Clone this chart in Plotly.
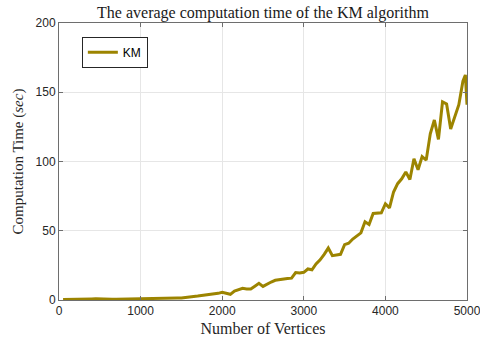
import plotly.graph_objects as go

vertices = [50, 100, 150, 200, 250, 300, 350, 400, 450, 500, 550, 600, 650, 700, 750, 800, 850, 900, 950, 1000,
            1050, 1100, 1150, 1200, 1250, 1300, 1350, 1400, 1450, 1500, 1550, 1600, 1650, 1700, 1750, 1800, 1850, 1900, 1950, 2000,
            2050, 2100, 2150, 2200, 2250, 2300, 2350, 2400, 2450, 2500, 2550, 2600, 2650, 2700, 2750, 2800, 2850, 2900, 2950, 3000,
            3050, 3100, 3150, 3200, 3250, 3300, 3350, 3400, 3450, 3500, 3550, 3600, 3650, 3700, 3750, 3800, 3850, 3900, 3950, 4000,
            4050, 4100, 4150, 4200, 4250, 4300, 4350, 4400, 4450, 4500, 4550, 4600, 4650, 4700, 4750, 4800, 4850, 4900, 4950, 4980, 5000]
km_time = [0.3, 0.3, 0.3, 0.3, 0.4, 0.5, 0.6, 0.8, 0.9, 0.7, 0.5, 0.4, 0.5, 0.5, 0.6, 0.6, 0.7, 0.7, 0.8, 0.9,
           0.9, 1.0, 1.1, 1.2, 1.3, 1.3, 1.4, 1.4, 1.5, 1.5, 1.7, 2.2, 2.6, 2.9, 3.2, 3.4, 3.7, 4.1, 4.8, 5.6,
           5.0, 4.1, 6.5, 7.2, 8.4, 8.0, 8.0, 10.0, 12.0, 9.8, 11.5, 13.0, 14.2, 14.8, 15.2, 15.5, 15.8, 19.8, 19.5, 20.0,
           22.4, 21.8, 26.0, 29.0, 33.0, 37.5, 32.0, 32.5, 33.0, 40.0, 41.0, 44.0, 46.5, 48.5, 56.5, 54.5, 62.5, 63.0, 63.0, 69.5,
           66.5, 78.0, 84.0, 87.5, 92.5, 87.0, 102.0, 94.0, 103.5, 101.0, 120.0, 130.0, 116.0, 143.0, 141.5, 123.5, 132.0, 141.0, 158.0, 162.5, 141.0]

x_ticks = [0, 1000, 2000, 3000, 4000, 5000]
y_ticks = [0, 50, 100, 150, 200]

serif = "Liberation Serif, DejaVu Serif, serif"
sans = "Liberation Sans, Arial, sans-serif"

fig = go.Figure()
fig.add_trace(go.Scatter(x=vertices, y=km_time, mode="lines", name="KM",
                         line=dict(color="#9c8400", width=3)))

axis_common = dict(showline=True, linecolor="#6e6e6e", linewidth=1, mirror="allticks",
                   ticks="inside", ticklen=4, tickcolor="#6e6e6e",
                   showgrid=True, gridcolor="#e6e6e6", gridwidth=1, zeroline=False,
                   ticklabeloverflow="allow", automargin=False,
                   tickfont=dict(family=sans, size=12, color="#262626"))

fig.update_layout(
    width=480, height=347,
    margin=dict(l=59, r=13, t=23, b=47),
    paper_bgcolor="white", plot_bgcolor="white",
    title=dict(text="The average computation time of the KM algorithm",
               font=dict(family=serif, size=16, color="#1a1a1a"),
               x=(59 + 467) / 2 / 480, xanchor="center", y=1 - 12 / 347, yanchor="middle"),
    xaxis=dict(range=[0, 5000], tickvals=x_ticks,
               title=dict(text="Number of Vertices", font=dict(family=serif, size=16, color="#262626"), standoff=5),
               **axis_common),
    yaxis=dict(range=[0, 200], tickvals=y_ticks,
               title=dict(text="Computation Time (<i>sec</i>)", font=dict(family=serif, size=15, color="#262626"), standoff=8),
               **axis_common),
    legend=dict(x=0.056, y=0.95, xanchor="left", yanchor="top",
                bgcolor="white", bordercolor="#262626", borderwidth=1,
                font=dict(family=sans, size=12, color="#000000"),
                itemwidth=30),
    showlegend=True,
)

fig.write_html("out.html")
